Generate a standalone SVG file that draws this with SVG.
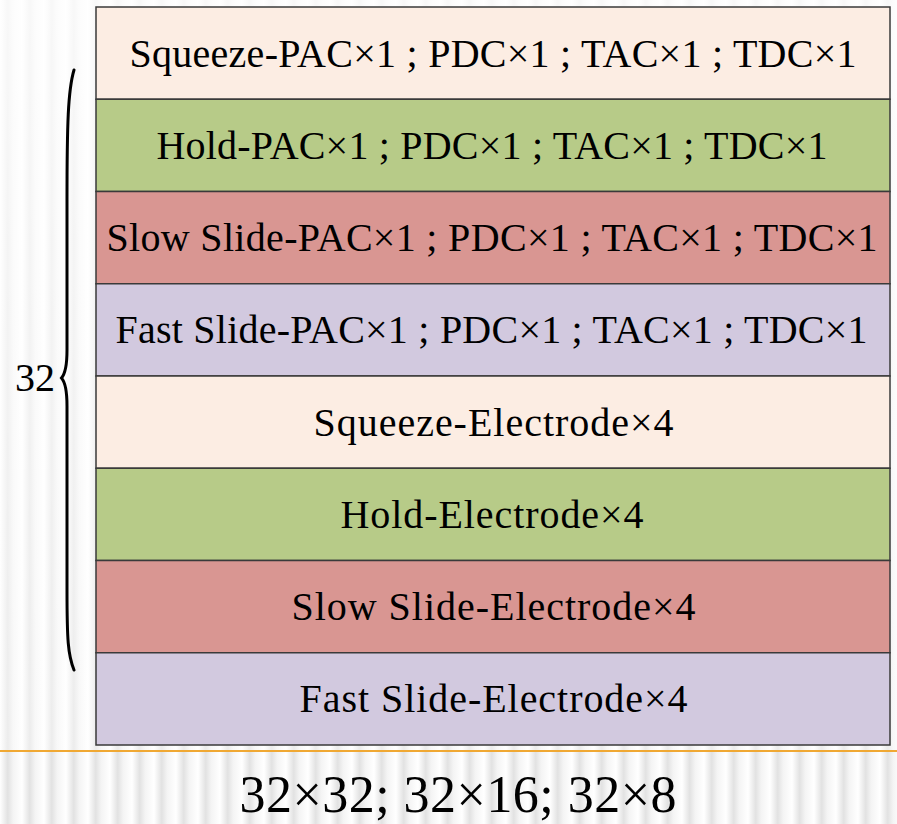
<svg xmlns="http://www.w3.org/2000/svg" width="897" height="824" viewBox="0 0 897 824">
  <defs>
    <!-- soft vertical stripes of the slide background -->
    <linearGradient id="stripeGrad" x1="0" y1="0" x2="1" y2="0">
      <stop offset="0" stop-color="#ffffff"/>
      <stop offset="0.35" stop-color="#e2e2e2"/>
      <stop offset="0.6" stop-color="#f4f4f4"/>
      <stop offset="1" stop-color="#ffffff"/>
    </linearGradient>
    <pattern id="stripes" x="0" y="0" width="22" height="824" patternUnits="userSpaceOnUse">
      <rect width="22" height="824" fill="url(#stripeGrad)"/>
    </pattern>
    <linearGradient id="fade" x1="0" y1="0" x2="0" y2="1">
      <stop offset="0" stop-color="#ffffff" stop-opacity="0.75"/>
      <stop offset="1" stop-color="#ffffff" stop-opacity="0.35"/>
    </linearGradient>
    <style>
      .row { stroke: #3a3a3a; stroke-width: 1.5; }
      .lbl { font-family: "Liberation Serif", "Times New Roman", serif; font-size: 40px; fill: #000; text-anchor: middle; }
      .squeeze { fill: #FCEDE3; }
      .hold { fill: #B7CB88; }
      .slow { fill: #D99692; }
      .fast { fill: #D2C9DF; }
    </style>
  </defs>

  <!-- background -->
  <rect width="897" height="824" fill="url(#stripes)"/>
  <rect width="897" height="750" fill="url(#fade)"/>
  <line x1="0" y1="751" x2="897" y2="751" stroke="#F0A833" stroke-width="2"/>

  <!-- stacked rows -->
  <g id="row-squeeze-pac">
    <rect class="row squeeze" x="96" y="7" width="794" height="92.25"/>
    <text class="lbl" x="493" y="66.5" textLength="727" lengthAdjust="spacing">Squeeze-PAC×1 ; PDC×1 ; TAC×1 ; TDC×1</text>
  </g>
  <g id="row-hold-pac">
    <rect class="row hold" x="96" y="99.25" width="794" height="92.25"/>
    <text class="lbl" x="492" y="158.5" textLength="671" lengthAdjust="spacing">Hold-PAC×1 ; PDC×1 ; TAC×1 ; TDC×1</text>
  </g>
  <g id="row-slow-pac">
    <rect class="row slow" x="96" y="191.5" width="794" height="92.25"/>
    <text class="lbl" x="492" y="251" textLength="771" lengthAdjust="spacing">Slow Slide-PAC×1 ; PDC×1 ; TAC×1 ; TDC×1</text>
  </g>
  <g id="row-fast-pac">
    <rect class="row fast" x="96" y="283.75" width="794" height="92.25"/>
    <text class="lbl" x="491.5" y="343" textLength="752" lengthAdjust="spacing">Fast Slide-PAC×1 ; PDC×1 ; TAC×1 ; TDC×1</text>
  </g>
  <g id="row-squeeze-electrode">
    <rect class="row squeeze" x="96" y="376" width="794" height="92.25"/>
    <text class="lbl" x="493.5" y="435.5" textLength="360" lengthAdjust="spacing">Squeeze-Electrode×4</text>
  </g>
  <g id="row-hold-electrode">
    <rect class="row hold" x="96" y="468.25" width="794" height="92.25"/>
    <text class="lbl" x="492" y="527.5" textLength="303" lengthAdjust="spacing">Hold-Electrode×4</text>
  </g>
  <g id="row-slow-electrode">
    <rect class="row slow" x="96" y="560.5" width="794" height="92.25"/>
    <text class="lbl" x="493.5" y="620" textLength="404" lengthAdjust="spacing">Slow Slide-Electrode×4</text>
  </g>
  <g id="row-fast-electrode">
    <rect class="row fast" x="96" y="652.75" width="794" height="92.25"/>
    <text class="lbl" x="493.5" y="712" textLength="388" lengthAdjust="spacing">Fast Slide-Electrode×4</text>
  </g>

  <!-- brace spanning the rows, with its count -->
  <g id="brace">
    <path d="M74,70 C68,90 67,125 67,200 L67,350 C67,367 65,374 61.5,378 C65,382 67,389 67,406 L67,590 C67,640 68,655 74,670" fill="none" stroke="#000" stroke-width="3" stroke-linecap="round"/>
    <text x="15" y="391" style="font-family: 'Liberation Serif', 'Times New Roman', serif; font-size: 40px;">32</text>
  </g>

  <!-- array sizes -->
  <g id="sizes">
    <text x="458" y="812" text-anchor="middle" textLength="437" lengthAdjust="spacing" style="font-family: 'Liberation Serif', 'Times New Roman', serif; font-size: 52px;">32×32; 32×16; 32×8</text>
  </g>
</svg>
